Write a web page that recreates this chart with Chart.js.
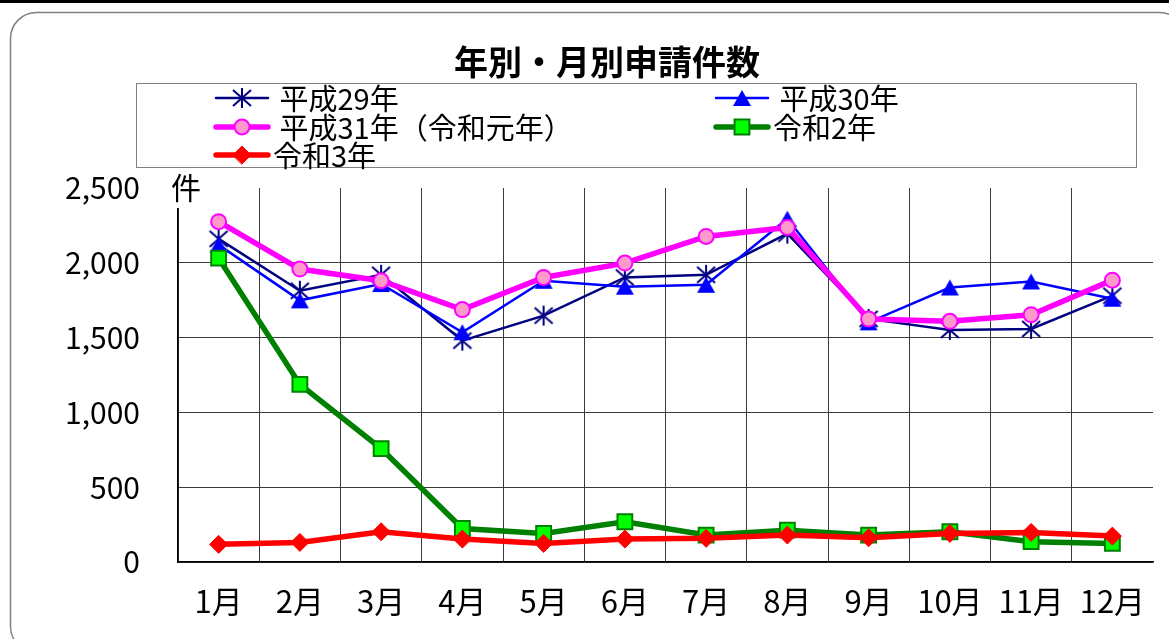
<!DOCTYPE html>
<html>
<head>
<meta charset="utf-8">
<script src="https://cdn.jsdelivr.net/npm/chart.js@4"></script>
<style>
  html, body { margin: 0; padding: 0; background: #fff; }
  canvas { display: block; }
</style>
</head>
<body>
<canvas id="myChart" width="1169" height="639"></canvas>
<script>
const Month_labels = ["1月", "2月", "3月", "4月", "5月", "6月", "7月", "8月", "9月", "10月", "11月", "12月"];
const Series_names = [" 平成29年", " 平成30年", " 平成31年（令和元年）", "令和2年", "令和3年"];
const H29 = [2160, 1813, 1920, 1480, 1647, 1902, 1920, 2195, 1625, 1551, 1558, 1780];
const H30 = [2120, 1749, 1858, 1536, 1880, 1840, 1853, 2295, 1602, 1835, 1875, 1760];
const H31 = [2275, 1958, 1880, 1687, 1902, 1998, 2176, 2236, 1624, 1609, 1653, 1884];
const R2 = [2031, 1187, 758, 224, 191, 269, 180, 213, 180, 202, 136, 124];
const R3 = [118, 131, 202, 153, 124, 153, 158, 180, 162, 191, 198, 173];
const Y_ticks = [0, 500, 1000, 1500, 2000, 2500];

const Font_family = "'Noto Sans CJK JP', sans-serif";

// excel style markers, centered on their bounding box
function make_asterisk() {
  const c = document.createElement("canvas");
  c.width = 22; c.height = 22;
  const g = c.getContext("2d");
  g.strokeStyle = "#000080";
  g.lineWidth = 2;
  g.beginPath();
  g.moveTo(11, 1); g.lineTo(11, 21);
  g.moveTo(2, 3); g.lineTo(20, 19);
  g.moveTo(2, 19); g.lineTo(20, 3);
  g.stroke();
  return c;
}

function make_triangle() {
  const c = document.createElement("canvas");
  c.width = 20; c.height = 18;
  const g = c.getContext("2d");
  g.fillStyle = "#0000FF";
  g.beginPath();
  g.moveTo(10, 1); g.lineTo(19, 17); g.lineTo(1, 17);
  g.closePath();
  g.fill();
  return c;
}

const asterisk = make_asterisk();
const triangle = make_triangle();

const frame_plugin = {
  id: "frame",
  beforeDraw(chart) {
    const ctx = chart.ctx;
    ctx.save();
    ctx.fillStyle = "#fff";
    ctx.fillRect(0, 0, chart.width, chart.height);
    ctx.restore();
  },
  afterDraw(chart) {
    const ctx = chart.ctx;
    ctx.save();
    // top black bar
    ctx.fillStyle = "#000";
    ctx.fillRect(0, 0, chart.width, 3);
    // rounded outer border
    ctx.strokeStyle = "#7f7f7f";
    ctx.lineWidth = 1.5;
    ctx.beginPath();
    ctx.roundRect(10.5, 12.5, 1175, 640, 26);
    ctx.stroke();

    // title
    ctx.fillStyle = "#000";
    ctx.font = "bold 34px " + Font_family;
    ctx.textAlign = "center";
    ctx.textBaseline = "middle";
    ctx.fillText("年別・月別申請件数", 607, 62);

    // unit label
    ctx.fillStyle = "#fff";
    ctx.fillRect(168, 170, 38, 38);
    ctx.fillStyle = "#000";
    ctx.font = "30px " + Font_family;
    ctx.fillText("件", 186, 188);

    // legend box
    ctx.strokeStyle = "#808080";
    ctx.lineWidth = 1;
    ctx.strokeRect(136.5, 83.5, 1000, 84);
    const spots = [[216, 98], [716, 98], [216, 127], [716, 127], [216, 155]];
    ctx.textAlign = "left";
    ctx.font = "29px " + Font_family;
    chart.data.datasets.forEach((ds, i) => {
      const [x, y] = spots[i];
      ctx.strokeStyle = ds.borderColor;
      ctx.lineWidth = ds.borderWidth;
      ctx.lineCap = "round";
      ctx.beginPath();
      ctx.moveTo(x, y); ctx.lineTo(x + 52, y);
      ctx.stroke();
      ctx.save();
      ctx.fillStyle = ds.pointBackgroundColor;
      ctx.strokeStyle = ds.pointBorderColor;
      ctx.lineWidth = ds.pointBorderWidth;
      Chart.helpers.drawPoint(ctx, {
        pointStyle: ds.pointStyle, radius: ds.pointRadius, rotation: 0,
        borderWidth: ds.pointBorderWidth
      }, x + 26, y);
      ctx.restore();
      ctx.fillStyle = "#000";
      ctx.fillText(ds.label, x + 57, y + 1);
    });
    ctx.restore();
  }
};

const chart = new Chart("myChart", {
  type: "line",
  data: {
    labels: Month_labels,
    datasets: [
      {
        label: Series_names[0], data: H29, order: 5,
        borderColor: "#000080", borderWidth: 2.5,
        pointStyle: asterisk, pointRadius: 10,
        pointBackgroundColor: "#000080", pointBorderColor: "#000080", pointBorderWidth: 1,
      }, {
        label: Series_names[1], data: H30, order: 4,
        borderColor: "#0000FF", borderWidth: 2.5,
        pointStyle: triangle, pointRadius: 10,
        pointBackgroundColor: "#0000FF", pointBorderColor: "#0000FF", pointBorderWidth: 1,
      }, {
        label: Series_names[2], data: H31, order: 3,
        borderColor: "#FF00FF", borderWidth: 5.5,
        pointStyle: "circle", pointRadius: 7.5,
        pointBackgroundColor: "#FF99CC", pointBorderColor: "#FF00FF", pointBorderWidth: 2,
      }, {
        label: Series_names[3], data: R2, order: 2,
        borderColor: "#008000", borderWidth: 5.5,
        pointStyle: "rect", pointRadius: 10.5,
        pointBackgroundColor: "#00FF00", pointBorderColor: "#008000", pointBorderWidth: 2,
      }, {
        label: Series_names[4], data: R3, order: 1,
        borderColor: "#FF0000", borderWidth: 5.5,
        pointStyle: "rectRot", pointRadius: 9,
        pointBackgroundColor: "#FF0000", pointBorderColor: "#FF0000", pointBorderWidth: 1,
      },
    ]
  },
  options: {
    responsive: false,
    animation: false,
    events: [],
    layout: {padding: {top: 188, right: 16, left: 0, bottom: 0}},
    plugins: {legend: {display: false}, title: {display: false}, tooltip: {enabled: false}},
    elements: {line: {tension: 0}},
    scales: {
      x: {
        offset: true,
        grid: {offset: true, drawTicks: false, lineWidth: 1,
               color: c => c.type === "tick" ? "#3a3a3a" : "transparent"},
        border: {color: "#000", width: 1.5},
        ticks: {color: "#000", padding: 21, maxRotation: 0, autoSkip: false,
                font: {family: Font_family, size: 31}},
        afterFit: s => { s.height = 77; },
      },
      y: {
        min: 0, max: 2500,
        afterBuildTicks: s => { s.ticks = Y_ticks.map(v => ({value: v})); },
        grid: {drawTicks: false, lineWidth: 1,
               color: c => (c.tick && c.tick.value === 2500) ? "transparent" : "#3a3a3a"},
        border: {color: "#000", width: 1.5},
        ticks: {color: "#000", padding: 38,
                font: {family: Font_family, size: 30},
                callback: v => v.toLocaleString("en-US")},
        afterFit: s => { s.width = 178; },
      },
    },
  },
  plugins: [frame_plugin],
});
</script>
</body>
</html>
